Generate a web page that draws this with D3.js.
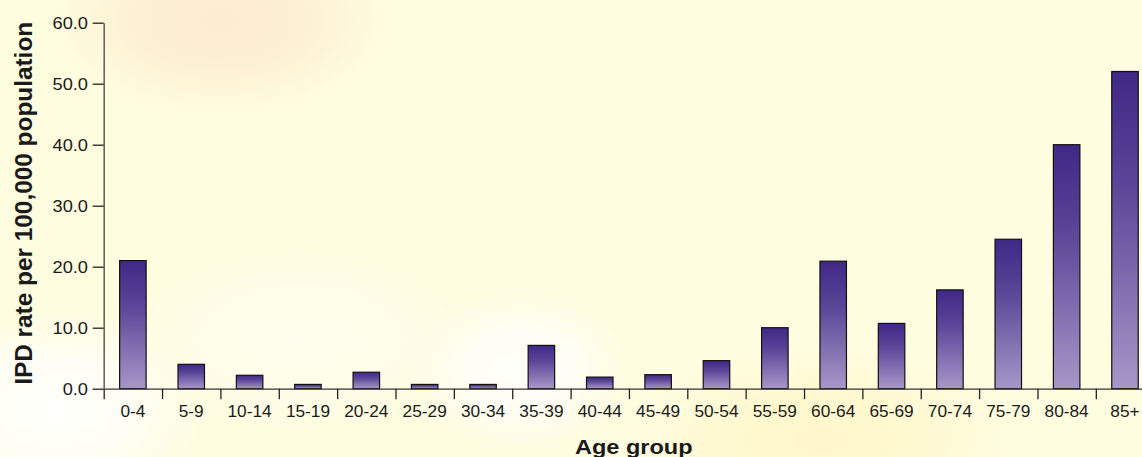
<!DOCTYPE html>
<html>
<head>
<meta charset="utf-8">
<script src="https://cdn.jsdelivr.net/npm/d3@7"></script>
<style>
  html, body { margin: 0; padding: 0; background: #fffde0; }
  svg { display: block; }
  text { font-family: "Liberation Sans", Arial, Helvetica, sans-serif; fill: #1a1a1a; }
</style>
</head>
<body>
<svg id="chart" width="1142" height="457"></svg>
<script>
// ---- data ----
const categories = ["0-4","5-9","10-14","15-19","20-24","25-29","30-34","35-39","40-44","45-49","50-54","55-59","60-64","65-69","70-74","75-79","80-84","85+"];
const rates = [21.0, 4.0, 2.2, 0.7, 2.7, 0.7, 0.7, 7.1, 1.9, 2.3, 4.6, 10.0, 20.9, 10.7, 16.2, 24.5, 40.0, 52.0];
const yTicks = [0, 10, 20, 30, 40, 50, 60];
const yTitle = "IPD rate per 100,000 population";
const xTitle = "Age group";

// ---- layout ----
const W = 1142, H = 457;
const x0 = 103.7, step = 58.36;
const yBottom = 388.7, yTop = 22.7;

const svg = d3.select("#chart");
const defs = svg.append("defs");

// background
svg.append("rect").attr("width", W).attr("height", H).attr("fill", "#fffde0");
function blob(id, cx, cy, rx, ry, color, op) {
  const g = defs.append("radialGradient").attr("id", id);
  g.append("stop").attr("offset", "0%").attr("stop-color", color).attr("stop-opacity", op);
  g.append("stop").attr("offset", "50%").attr("stop-color", color).attr("stop-opacity", op * 0.75);
  g.append("stop").attr("offset", "100%").attr("stop-color", color).attr("stop-opacity", 0);
  svg.append("ellipse").attr("cx", cx).attr("cy", cy).attr("rx", rx).attr("ry", ry)
    .attr("fill", `url(#${id})`);
}
blob("bgPeach", 220, 20, 170, 95, "#fbe4ca", 0.7);
blob("bgWhite1", 55, 410, 150, 100, "#ffffff", 0.9);
blob("bgWhite2", 520, 370, 110, 80, "#ffffff", 0.85);
blob("bgWhite3", 300, 340, 170, 90, "#ffffff", 0.45);
blob("bgYellow", 820, 440, 190, 90, "#fff5c4", 0.75);

// scales
const x = d3.scaleBand().domain(categories)
  .range([x0, x0 + step * categories.length])
  .paddingInner(0.546).paddingOuter(0.273);
const xb = d3.scaleLinear().domain([0, categories.length]).range([x0, x0 + step * categories.length]);
const y = d3.scaleLinear().domain([0, 60]).range([yBottom, yTop]);

// bar gradient
const grad = defs.append("linearGradient").attr("id", "barGrad")
  .attr("x1", 0).attr("y1", 0).attr("x2", 0).attr("y2", 1);
grad.append("stop").attr("offset", "0%").attr("stop-color", "#402886");
grad.append("stop").attr("offset", "35%").attr("stop-color", "#5a4597");
grad.append("stop").attr("offset", "100%").attr("stop-color", "#a797c8");

// bars
svg.append("g").selectAll("rect").data(categories).join("rect")
  .attr("x", d => x(d))
  .attr("y", (d, i) => y(rates[i]))
  .attr("width", x.bandwidth())
  .attr("height", (d, i) => yBottom - y(rates[i]))
  .attr("fill", "url(#barGrad)")
  .attr("stroke", "#111")
  .attr("stroke-width", 1.2);

// x axis: boundary ticks
const xTickAxis = d3.axisBottom(xb).tickValues(d3.range(categories.length + 1))
  .tickFormat("").tickSize(10.5).tickSizeOuter(0);
const gxt = svg.append("g").attr("transform", `translate(0,${yBottom})`).call(xTickAxis);
gxt.select(".domain").attr("stroke", "#333").attr("stroke-width", 1.3);
gxt.selectAll(".tick line").attr("stroke", "#222").attr("stroke-width", 1.3);

// x axis labels
const xLabAxis = d3.axisBottom(x).tickSize(0).tickPadding(0);
const gxl = svg.append("g").attr("transform", `translate(0,${yBottom})`).call(xLabAxis);
gxl.select(".domain").remove();
gxl.selectAll(".tick text")
  .attr("y", 28.5).attr("dy", 0)
  .attr("font-size", 16)
  .attr("transform", "scale(1.08,1)")
  .attr("fill", "#1a1a1a");

// y axis
const yAxis = d3.axisLeft(y).tickValues(yTicks).tickFormat(d3.format(".1f"))
  .tickSize(11).tickPadding(4.5).tickSizeOuter(0);
const gy = svg.append("g").attr("transform", `translate(${x0},0)`).call(yAxis);
gy.select(".domain").attr("stroke", "#6b6758").attr("stroke-width", 1.6);
gy.selectAll(".tick line").attr("stroke", "#222").attr("stroke-width", 1.3);
gy.selectAll(".tick text")
  .attr("font-size", 16)
  .attr("x", -15.7 / 1.14)
  .attr("dy", "0.36em")
  .attr("transform", "scale(1.14,1)")
  .attr("fill", "#1a1a1a");

// titles
svg.append("text")
  .attr("transform", `translate(31.5,${(21.7 + 385) / 2}) rotate(-90)`)
  .attr("text-anchor", "middle")
  .attr("font-size", 24).attr("font-weight", "bold")
  .attr("textLength", 363).attr("lengthAdjust", "spacingAndGlyphs")
  .text(yTitle);

svg.append("text")
  .attr("x", 633.8).attr("y", 454)
  .attr("text-anchor", "middle")
  .attr("font-size", 21).attr("font-weight", "bold")
  .attr("textLength", 117.7).attr("lengthAdjust", "spacingAndGlyphs")
  .text(xTitle);
</script>
</body>
</html>
